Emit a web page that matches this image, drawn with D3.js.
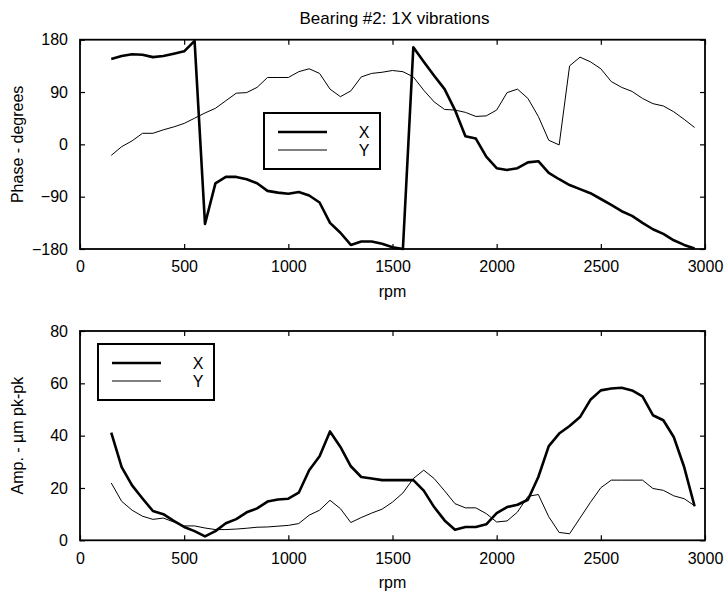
<!DOCTYPE html>
<html>
<head>
<meta charset="utf-8">
<script src="https://cdn.jsdelivr.net/npm/d3@7"></script>
<style>
  body { margin: 0; background: #fff; }
  svg text { font-family: "Liberation Sans", Arial, sans-serif; fill: #000; }
</style>
</head>
<body>
<div id="chart-container"></div>
<script>
// rpm steps shared by every series
var rpm = d3.range(150, 3000, 50);

var phaseX = [147, 152, 155, 154, 150, 152, 156, 160, 178, -137, -67, -56, -56, -60, -67, -80, -83, -85, -82, -88,
  -100, -135, -152, -173, -167, -167, -171, -177, -180, 167, 142, 118, 95, 59, 14, 10, -21, -41, -44, -41,
  -31, -29, -49, -60, -70, -77, -84, -94, -104, -115, -123, -135, -146, -154, -165, -173, -179];
var phaseY = [-19, -4, 6, 19, 19, 25, 30, 36, 45, 54, 62, 75, 88, 89, 98, 115, 115, 115, 125, 130,
  122, 95, 82, 92, 116, 122, 124, 127, 125, 116, 93, 73, 60, 59, 55, 48, 49, 59, 89, 95,
  79, 48, 7, -1, 135, 150, 142, 130, 108, 98, 91, 79, 70, 66, 56, 43, 29];
var ampX = [41.2, 28, 21, 16, 11.2, 10, 7.4, 5.1, 3.5, 1.5, 3.5, 6.5, 8.1, 10.7, 12.2, 14.8, 15.6, 15.9, 18.2, 26.8,
  32.1, 41.6, 35.7, 28.3, 24.2, 23.6, 23, 23, 23, 23, 19, 12.7, 7.6, 4, 5.1, 5.1, 6.1, 10.4, 12.7, 13.6,
  15.5, 24.2, 36, 40.8, 43.7, 47.1, 53.7, 57.3, 58, 58.3, 57.3, 55, 47.8, 45.9, 39.5, 28, 13];
var ampY = [21.9, 14.9, 11.5, 9.2, 8, 8.5, 7, 5.5, 5.5, 4.7, 4.1, 4.1, 4.3, 4.6, 5, 5.1, 5.4, 5.7, 6.4, 9.6,
  11.5, 15.3, 12.1, 6.8, 8.7, 10.4, 11.9, 14.6, 18.1, 23.6, 26.8, 23.6, 18.9, 14, 12.4, 12.4, 10.2, 7, 7.4, 10.8,
  16.8, 17.5, 9, 3, 2.5, 8.5, 14.5, 20.1, 23, 23, 23, 23, 19.8, 19.1, 17, 15.9, 13.2];

var xTicks = [0, 500, 1000, 1500, 2000, 2500, 3000];
var phaseTicks = [-180, -90, 0, 90, 180];
var ampTicks = [0, 20, 40, 60, 80];
var seriesNames = ["X", "Y"];

var W = 726, H = 594;
var left = 80, right = 705, plotH = 209.3;
var tops = [39.7, 331];

var svg = d3.select("#chart-container").append("svg")
  .attr("width", W).attr("height", H);

var x = d3.scaleLinear().domain([0, 3000]).range([left, right]);

function panel(top, yDomain, yTicks, ylabel, s1, s2, legendPos) {
  var y = d3.scaleLinear().domain(yDomain).range([top + plotH, top]);
  var g = svg.append("g");

  // series
  var line = d3.line().x(function(d) { return x(d[0]); }).y(function(d) { return y(d[1]); });
  g.append("path").datum(d3.zip(rpm, s2)).attr("d", line)
    .attr("fill", "none").attr("stroke", "#000").attr("stroke-width", 1);
  g.append("path").datum(d3.zip(rpm, s1)).attr("d", line)
    .attr("fill", "none").attr("stroke", "#000").attr("stroke-width", 2.6)
    .attr("stroke-linejoin", "round");

  // axes with inward ticks, mirrored on top and right
  var tl = 5;
  g.append("g").attr("transform", "translate(0," + (top + plotH) + ")")
    .call(d3.axisBottom(x).tickValues(xTicks).tickSize(-tl).tickPadding(12).tickFormat(d3.format("d")));
  g.append("g").attr("transform", "translate(0," + top + ")")
    .call(d3.axisTop(x).tickValues(xTicks).tickSize(-tl).tickFormat(""));
  g.append("g").attr("transform", "translate(" + left + ",0)")
    .call(d3.axisLeft(y).tickValues(yTicks).tickSize(-tl).tickPadding(12).tickFormat(d3.format("d")));
  g.append("g").attr("transform", "translate(" + right + ",0)")
    .call(d3.axisRight(y).tickValues(yTicks).tickSize(-tl).tickFormat(""));
  g.selectAll(".domain").remove();
  g.selectAll(".tick line").attr("stroke", "#000").attr("stroke-width", 1.2);
  g.selectAll(".tick text").style("font-size", "16px");

  g.append("rect").attr("x", left).attr("y", top).attr("width", right - left).attr("height", plotH)
    .attr("fill", "none").attr("stroke", "#000").attr("stroke-width", 1.8);

  g.append("text").attr("x", (left + right) / 2).attr("y", top + plotH + 48)
    .attr("text-anchor", "middle").style("font-size", "16px").text("rpm");
  g.append("text").attr("transform", "translate(23," + (top + plotH / 2) + ") rotate(-90)")
    .attr("text-anchor", "middle").style("font-size", "16px").text(ylabel);

  // legend
  var lg = g.append("g").attr("transform", "translate(" + legendPos[0] + "," + legendPos[1] + ")");
  lg.append("rect").attr("width", 116).attr("height", 56)
    .attr("fill", "#fff").attr("stroke", "#000").attr("stroke-width", 2);
  seriesNames.forEach(function(name, i) {
    var ly = 19 + i * 18;
    lg.append("line").attr("x1", 14).attr("x2", 63).attr("y1", ly).attr("y2", ly)
      .attr("stroke", "#000").attr("stroke-width", i === 0 ? 2.6 : 1);
    lg.append("text").attr("x", 100).attr("y", ly + 6).attr("text-anchor", "middle")
      .style("font-size", "16px").text(name);
  });
  return g;
}

panel(tops[0], [-180, 180], phaseTicks, "Phase - degrees", phaseX, phaseY, [264, 113]);
panel(tops[1], [0, 80], ampTicks, "Amp. - \u00b5m pk-pk", ampX, ampY, [98, 344]);

svg.append("text").attr("x", (left + right) / 2 + 2).attr("y", 24)
  .attr("text-anchor", "middle").style("font-size", "17px").text("Bearing #2: 1X vibrations");
</script>
</body>
</html>
